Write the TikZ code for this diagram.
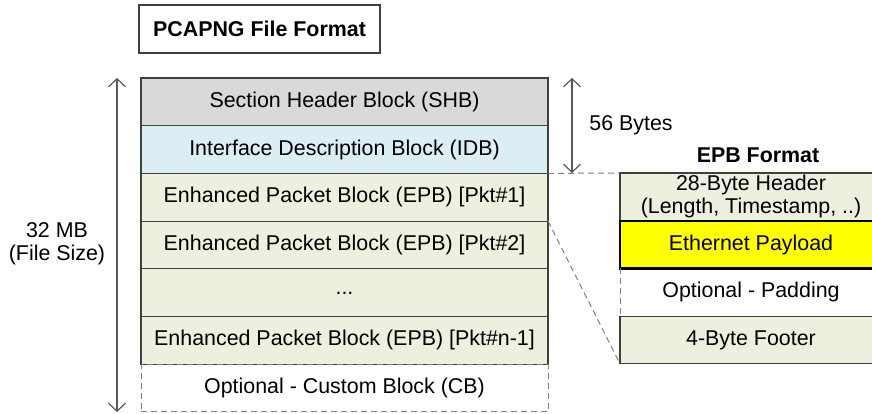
\documentclass[tikz,border=0pt]{standalone}
\usepackage{fontspec}
\setmainfont{Liberation Sans}
\usetikzlibrary{arrows.meta}
\definecolor{shbgray}{HTML}{D9D9D9}
\definecolor{idbblue}{HTML}{DBEEF4}
\definecolor{epbgreen}{HTML}{EBF1DE}
\definecolor{payload}{HTML}{FFFF00}
\definecolor{edge}{HTML}{404040}
\definecolor{guide}{HTML}{7F7F7F}
\definecolor{dim}{HTML}{595959}
\begin{document}
\begin{tikzpicture}[x=1pt,y=-1pt,
  font=\fontsize{21.4}{23}\selectfont,
  every node/.style={outer sep=0pt},
  blk/.style={draw=edge, line width=1.2pt, minimum width=407pt, minimum height=47.7pt,
              inner sep=0pt, anchor=north west},
  epbrow/.style={draw=edge, line width=1.2pt, minimum width=262pt, minimum height=47.7pt,
              inner sep=0pt, anchor=north west, align=center},
  guideline/.style={draw=guide, line width=1pt, dash pattern=on 6pt off 4pt},
  dimarrow/.style={draw=dim, line width=1.2pt, {Straight Barb[length=8pt,width=17pt]}-{Straight Barb[length=8pt,width=17pt]}},
  label/.style={inner sep=0pt, align=center}]
\useasboundingbox (0,0) rectangle (872,414);

% title
\node[draw=edge, line width=1.2pt, minimum width=241pt, minimum height=48pt, inner sep=0pt,
      anchor=north west, font=\fontsize{21.4}{23}\selectfont\bfseries] (title) at (139,5) {PCAPNG File Format};

% file layout column
\node[blk, fill=shbgray] (shb) at (141,78) {Section Header Block (SHB)};
\node[blk, fill=idbblue, anchor=north] (idb) at (shb.south) {Interface Description Block (IDB)};
\node[blk, fill=epbgreen, anchor=north] (epb1) at (idb.south) {Enhanced Packet Block (EPB) [Pkt\#1]};
\node[blk, fill=epbgreen, anchor=north] (epb2) at (epb1.south) {Enhanced Packet Block (EPB) [Pkt\#2]};
\node[blk, fill=epbgreen, anchor=north] (dots) at (epb2.south) {\raisebox{-4pt}{...}};
\node[blk, fill=epbgreen, anchor=north] (epbn) at (dots.south) {Enhanced Packet Block (EPB) [Pkt\#n-1]};
\node[blk, draw=guide, dash pattern=on 6pt off 4pt, line width=1pt, anchor=north] (cb) at (epbn.south) {Optional - Custom Block (CB)};

% EPB layout column
\node[epbrow, fill=epbgreen] (hdr) at (620,173) {28-Byte Header\\(Length, Timestamp, ..)};
\node[epbrow, fill=payload, draw=black, line width=2.4pt, anchor=north] (pay) at (hdr.south) {Ethernet Payload};
\node[epbrow, draw=none, anchor=north] (pad) at (pay.south) {Optional - Padding};
\node[epbrow, fill=epbgreen, anchor=north] (foot) at (pad.south) {4-Byte Footer};
\draw[guideline] (pad.north west) -- (pad.south west);
\node[label, font=\fontsize{21.4}{23}\selectfont\bfseries] (epbtitle) at (758,155) {EPB Format};

% zoom guides from packet 1 to the EPB layout
\draw[guideline] (epb1.north east) -- (hdr.north west);
\draw[guideline] (epb1.south east) -- (foot.south west);

% dimensions
\coordinate (fstop) at (117,78);
\coordinate (fsbot) at (117,412);
\draw[dimarrow] (fstop) -- (fsbot);
\node[label] (fsize) at (57,244) {32 MB\\(File Size)};

\coordinate (hbtop) at (572,78);
\coordinate (hbbot) at (572,173);
\draw[dimarrow] (hbtop) -- (hbbot);
\node[label] (hbytes) at (631,125) {56 Bytes};
\end{tikzpicture}
\end{document}
